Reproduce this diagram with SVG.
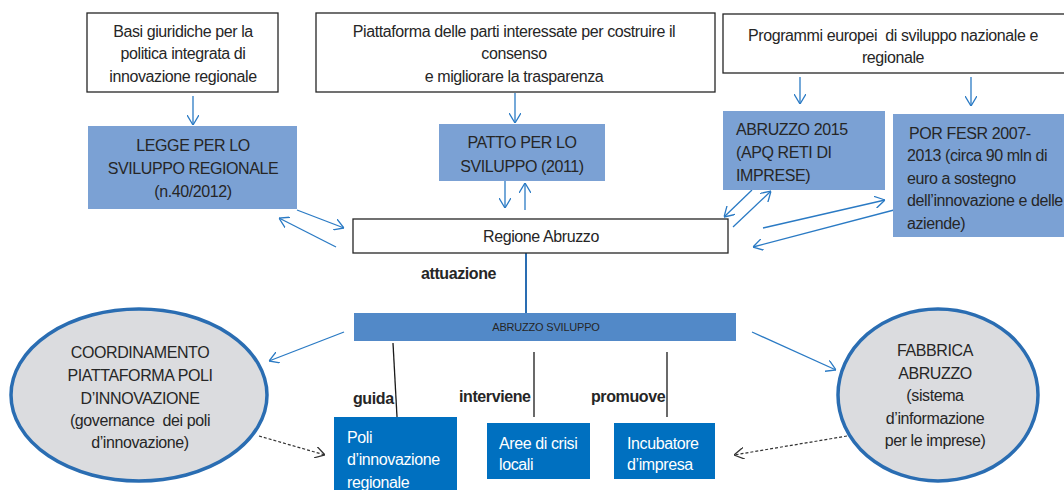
<svg xmlns="http://www.w3.org/2000/svg" width="1064" height="490" viewBox="0 0 1064 490">
<style>
text{font-family:"Liberation Sans",Arial,sans-serif;font-size:16px;letter-spacing:-0.4px;fill:#262626}
.c{text-anchor:middle}
.w{fill:#ffffff}
.b{font-weight:bold;fill:#262626}
.sm{font-size:11px;letter-spacing:-0.2px}
.wbox{fill:#ffffff;stroke:#262626;stroke-width:1.3}
.lb{fill:#7ba1d4}
.db{fill:#0070c0}
.bar{fill:#5289c8}
.ell{fill:#dbdcdf;stroke:#2a6db2;stroke-width:3.5}
.arr{fill:none;stroke:#2a7ac4;stroke-width:1.3;marker-end:url(#ah)}
.dash{fill:none;stroke:#333;stroke-width:1.2;stroke-dasharray:3 2;marker-end:url(#ahd)}
.ln{fill:none;stroke:#1a1a1a;stroke-width:1.3}
</style>
<defs>
<marker id="ah" viewBox="0 0 10 12" refX="10" refY="6" markerWidth="10" markerHeight="12" markerUnits="userSpaceOnUse" orient="auto">
<path d="M0,0 L10,6 L0,12" fill="none" stroke="#2a7ac4" stroke-width="1.3"/>
</marker>
<marker id="ahd" viewBox="0 0 10 12" refX="10" refY="6" markerWidth="10" markerHeight="12" markerUnits="userSpaceOnUse" orient="auto">
<path d="M0,0 L10,6 L0,12" fill="none" stroke="#333" stroke-width="1.3"/>
</marker>
</defs>
<rect width="1064" height="490" fill="#ffffff"/>

<g id="connectors">
<line class="arr" x1="193" y1="96" x2="193" y2="125"/>
<line class="arr" x1="515" y1="93" x2="515" y2="123"/>
<line class="arr" x1="800" y1="77" x2="800" y2="104"/>
<line class="arr" x1="971" y1="77" x2="971" y2="106"/>
<line class="arr" x1="505" y1="181" x2="505" y2="208"/>
<line class="arr" x1="525" y1="210" x2="525" y2="183"/>
<line class="arr" x1="297" y1="210" x2="344" y2="228"/>
<line class="arr" x1="336" y1="247" x2="279" y2="218"/>
<line class="arr" x1="752" y1="190" x2="724" y2="217"/>
<line class="arr" x1="733" y1="227" x2="771" y2="191"/>
<line class="arr" x1="763" y1="228" x2="885" y2="200"/>
<line class="arr" x1="894" y1="210" x2="753" y2="247"/>
<line x1="526" y1="247" x2="526" y2="313" stroke="#2a6db2" stroke-width="2"/>
<line class="arr" x1="344" y1="332" x2="269" y2="361"/>
<line class="arr" x1="752" y1="332" x2="836" y2="370"/>
<line class="dash" x1="259" y1="436" x2="325" y2="455"/>
<line class="dash" x1="847" y1="436" x2="734" y2="455"/>
<line class="ln" x1="393" y1="343" x2="397" y2="417"/>
<line class="ln" x1="534" y1="352" x2="534" y2="417"/>
<line class="ln" x1="667" y1="352" x2="667" y2="417" stroke-width="2"/>
<text class="b" x="421" y="279">attuazione</text>
<text class="b" x="353" y="404">guida</text>
<text class="b" x="459" y="402">interviene</text>
<text class="b" x="591" y="402">promuove</text>
</g>

<g id="basi">
<rect class="wbox" x="87" y="13" width="191" height="79"/>
<text class="c" x="183" y="37">Basi giuridiche per la</text>
<text class="c" x="183" y="59">politica integrata di</text>
<text class="c" x="183" y="82">innovazione regionale</text>
</g>

<g id="piattaforma">
<rect class="wbox" x="316" y="13" width="399" height="79"/>
<text class="c" x="514" y="37">Piattaforma delle parti interessate per costruire il</text>
<text class="c" x="514" y="59">consenso</text>
<text class="c" x="514" y="82">e migliorare la trasparenza</text>
</g>

<g id="programmi">
<rect class="wbox" x="723" y="14" width="345" height="59"/>
<text class="c" x="893" y="41">Programmi europei&#160; di sviluppo nazionale e</text>
<text class="c" x="893" y="63">regionale</text>
</g>

<g id="legge">
<rect class="lb" x="88" y="126" width="209" height="83"/>
<text class="c" x="193" y="151">LEGGE PER LO</text>
<text class="c" x="193" y="174">SVILUPPO REGIONALE</text>
<text class="c" x="193" y="197">(n.40/2012)</text>
</g>

<g id="patto">
<rect class="lb" x="439" y="124" width="166" height="57"/>
<text class="c" x="522" y="148">PATTO PER LO</text>
<text class="c" x="522" y="172">SVILUPPO (2011)</text>
</g>

<g id="abruzzo2015">
<rect class="lb" x="723" y="111" width="162" height="79"/>
<text x="736" y="135">ABRUZZO 2015</text>
<text x="736" y="158">(APQ RETI DI</text>
<text x="736" y="181">IMPRESE)</text>
</g>

<g id="porfesr">
<rect class="lb" x="893" y="114" width="175" height="123"/>
<text x="909" y="139">POR FESR 2007-</text>
<text x="907" y="161">2013 (circa 90 mln di</text>
<text x="907" y="184">euro a sostegno</text>
<text x="907" y="206">dell’innovazione e delle</text>
<text x="907" y="229">aziende)</text>
</g>

<g id="regione">
<rect class="wbox" x="353" y="219" width="375" height="34"/>
<text class="c" x="541" y="242">Regione Abruzzo</text>
</g>

<g id="abruzzosviluppo">
<rect class="bar" x="354" y="313" width="382" height="28"/>
<text class="c sm" x="546" y="331">ABRUZZO SVILUPPO</text>
</g>

<g id="coordinamento">
<ellipse class="ell" cx="139" cy="395" rx="128" ry="86"/>
<text class="c" x="140" y="358">COORDINAMENTO</text>
<text class="c" x="140" y="381">PIATTAFORMA POLI</text>
<text class="c" x="140" y="404">D’INNOVAZIONE</text>
<text class="c" x="140" y="426">(governance&#160; dei poli</text>
<text class="c" x="140" y="448">d’innovazione)</text>
</g>

<g id="fabbrica">
<ellipse class="ell" cx="938" cy="395" rx="100" ry="86"/>
<text class="c" x="935" y="356">FABBRICA</text>
<text class="c" x="935" y="379">ABRUZZO</text>
<text class="c" x="935" y="401">(sistema</text>
<text class="c" x="935" y="424">d’informazione</text>
<text class="c" x="935" y="446">per le imprese)</text>
</g>

<g id="poli">
<rect class="db" x="334" y="417" width="123" height="80"/>
<text class="w" x="347" y="443">Poli</text>
<text class="w" x="347" y="465">d’innovazione</text>
<text class="w" x="347" y="488">regionale</text>
</g>

<g id="aree">
<rect class="db" x="487" y="423" width="103" height="56"/>
<text class="w" x="499" y="449">Aree di crisi</text>
<text class="w" x="499" y="470">locali</text>
</g>

<g id="incubatore">
<rect class="db" x="614" y="423" width="101" height="56"/>
<text class="w" x="627" y="449">Incubatore</text>
<text class="w" x="627" y="470">d’impresa</text>
</g>
</svg>
